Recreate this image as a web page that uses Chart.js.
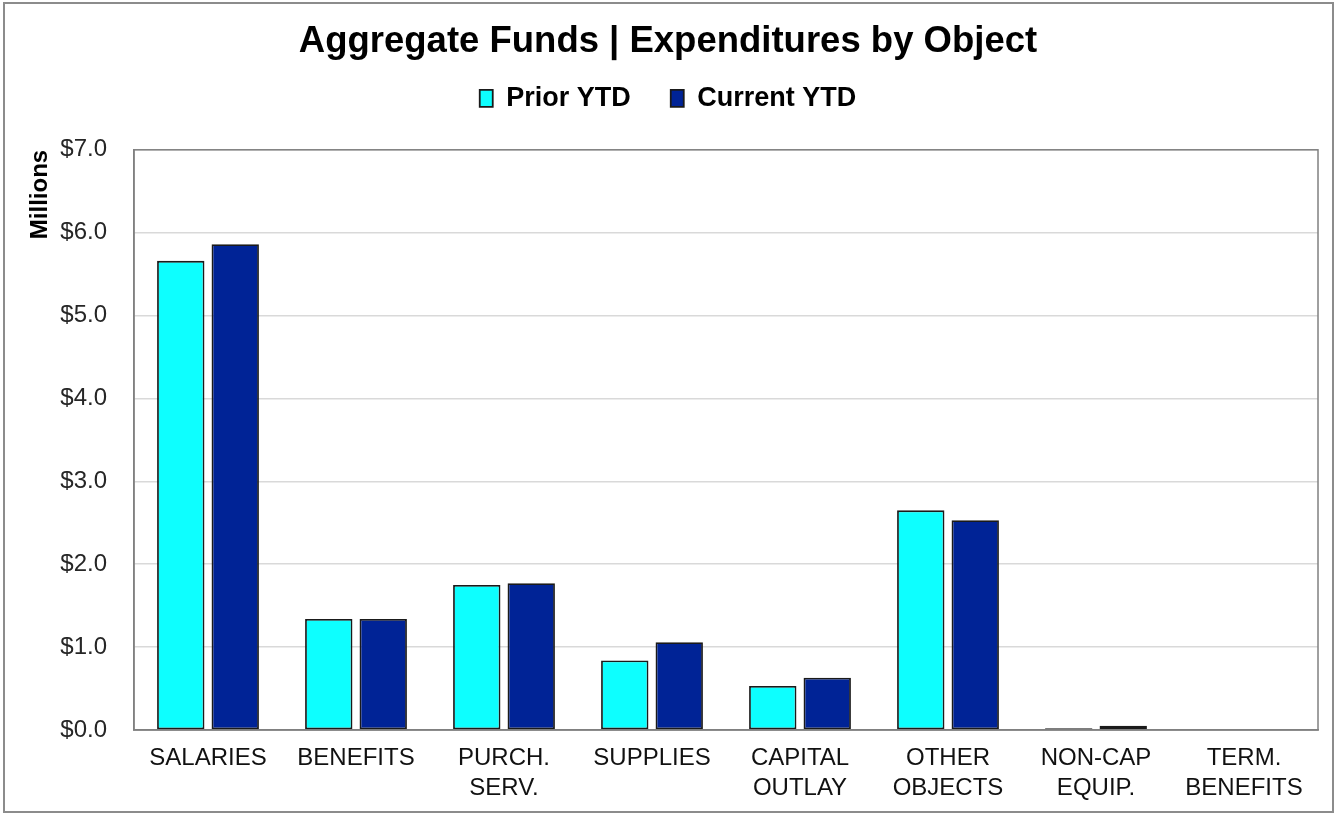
<!DOCTYPE html>
<html>
<head>
<meta charset="utf-8">
<script src="https://cdn.jsdelivr.net/npm/chart.js@4.4.1/dist/chart.umd.min.js"></script>
<style>
  html, body { margin: 0; padding: 0; background: #ffffff; }
  #wrap { position: absolute; left: 0; top: 0; width: 1335px; height: 815px; }
  #frame { position: absolute; left: 3px; top: 2px; width: 1331px; height: 811px; box-sizing: border-box;
           border: 2px solid #8c8c8c; pointer-events: none; }
</style>
</head>
<body>
<div id="wrap">
  <canvas id="c" width="1335" height="815"></canvas>
  <div id="frame"></div>
</div>
<script>
const chartTitle = 'Aggregate Funds | Expenditures by Object';
const axisTitle = 'Millions';
const seriesNames = ['Prior YTD', 'Current YTD'];
const categories = [
  ['SALARIES'],
  ['BENEFITS'],
  ['PURCH.', 'SERV.'],
  ['SUPPLIES'],
  ['CAPITAL', 'OUTLAY'],
  ['OTHER', 'OBJECTS'],
  ['NON-CAP', 'EQUIP.'],
  ['TERM.', 'BENEFITS']
];
const priorYTD   = [5.66, 1.34, 1.75, 0.84, 0.53, 2.65, 0.02, 0];
const currentYTD = [5.86, 1.34, 1.77, 1.06, 0.63, 2.53, 0.05, 0];
const yMin = 0, yMax = 7, yStep = 1;

const FONT = "'Liberation Sans', Arial, sans-serif";

const plotFrame = {
  id: 'plotFrame',
  afterDatasetsDraw(chart) {
    const a = chart.chartArea, ctx = chart.ctx;
    ctx.save();
    ctx.strokeStyle = '#808080';
    ctx.lineWidth = 1.5;
    ctx.strokeRect(a.left, a.top, a.right - a.left, a.bottom - a.top);
    ctx.restore();
  }
};

const legendSpace = {
  id: 'legendSpace',
  beforeInit(chart) {
    if (!chart.legend) return;
    const orig = chart.legend.fit;
    chart.legend.fit = function () {
      orig.call(this);
      this.height += 28;
    };
  }
};

new Chart(document.getElementById('c'), {
  type: 'bar',
  data: {
    labels: categories,
    datasets: [
      {
        label: seriesNames[0],
        data: priorYTD,
        backgroundColor: '#0DFFFF',
        borderColor: '#1a1a1a',
        borderWidth: 1.8,
        borderSkipped: false,
        categoryPercentage: 0.736,
        barPercentage: 0.87
      },
      {
        label: seriesNames[1],
        data: currentYTD,
        backgroundColor: '#002396',
        borderColor: '#1a1a1a',
        borderWidth: 1.8,
        borderSkipped: false,
        categoryPercentage: 0.736,
        barPercentage: 0.87
      }
    ]
  },
  options: {
    responsive: false,
    animation: false,
    devicePixelRatio: 1,
    layout: { padding: { left: 18, right: 17, top: 0, bottom: -1 } },
    plugins: {
      tooltip: { enabled: false },
      title: {
        display: true,
        text: chartTitle,
        color: '#000000',
        font: { family: FONT, size: 36.5, weight: 'bold' },
        padding: { top: 20, bottom: -19 }
      },
      legend: {
        display: true,
        position: 'top',
        labels: {
          color: '#000000',
          font: { family: FONT, size: 27, weight: 'bold' },
          boxWidth: 13,
          boxHeight: 17,
          padding: 40
        }
      }
    },
    scales: {
      x: {
        grid: { display: false, drawTicks: false },
        border: { display: true, color: '#808080', width: 1.5 },
        ticks: {
          color: '#111111',
          font: { family: FONT, size: 24, lineHeight: 1.25 },
          padding: 13,
          maxRotation: 0,
          autoSkip: false
        }
      },
      y: {
        min: yMin,
        max: yMax,
        afterFit(scale) { scale.width = 116; },
        grid: { color: '#d9d9d9', lineWidth: 1.5, drawTicks: false },
        border: { display: true, color: '#808080', width: 1.5 },
        ticks: {
          stepSize: yStep,
          color: '#262626',
          font: { family: FONT, size: 24 },
          padding: 27,
          callback: (v) => '$' + Number(v).toFixed(1)
        },
        title: {
          display: true,
          text: axisTitle,
          align: 'end',
          color: '#000000',
          font: { family: FONT, size: 24, weight: 'bold' },
          padding: { top: 8, bottom: 0 }
        }
      }
    }
  },
  plugins: [plotFrame, legendSpace]
});
</script>
</body>
</html>
